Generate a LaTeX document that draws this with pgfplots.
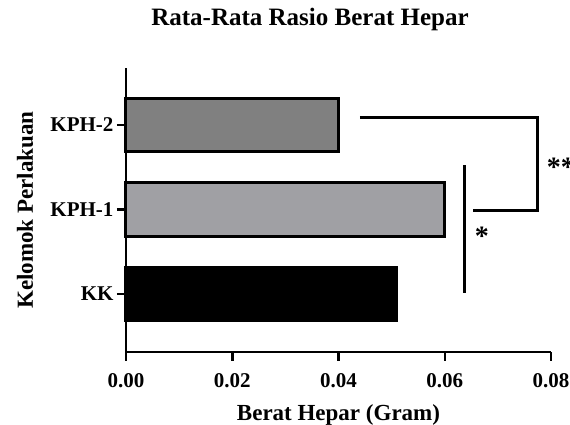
\documentclass[border=0pt]{standalone}
\usepackage{fontspec}
\setmainfont{Liberation Serif}
\usepackage{pgfplots}
\pgfplotsset{compat=1.18}

\definecolor{kph2}{RGB}{128,128,128}
\definecolor{kph1}{RGB}{160,160,164}

\begin{document}
\begin{tikzpicture}
\begin{axis}[
    name=main,
    scale only axis,
    width=425pt, height=284pt,
    xbar, bar width=0.63,
    xmin=0, xmax=0.08,
    ymin=-0.686, ymax=2.675,
    axis x line*=bottom, axis y line*=left,
    axis line style={line width=2.5pt},
    tick style={line width=2.5pt, black},
    tick align=outside,
    major tick length=9pt,
    xtick={0,0.02,0.04,0.06,0.08},
    ytick={0,1,2},
    yticklabels={KK,KPH-1,KPH-2},
    scaled x ticks=false,
    /pgf/number format/fixed,
    /pgf/number format/fixed zerofill,
    /pgf/number format/precision=2,
    /pgf/number format/assume math mode=true,
    tick label style={font=\bfseries\fontsize{21}{21}\selectfont},
    xticklabel style={yshift=-9pt},
    xlabel={Berat Hepar (Gram)},
    ylabel={Kelomok Perlakuan},
    every axis x label/.style={at={([yshift=-63pt]axis description cs:0.5,0)}, anchor=center,
        font=\bfseries\fontsize{23}{23}\selectfont},
    every axis y label/.style={at={([xshift=-101pt]axis description cs:0,0.5)}, rotate=90, anchor=center,
        font=\bfseries\fontsize{23}{23}\selectfont},
    title={Rata-Rata Rasio Berat Hepar},
    title style={at={([yshift=43pt]axis description cs:0.433,1)}, anchor=center,
        font=\bfseries\fontsize{25}{25}\selectfont},
    clip=false,
]
\addplot[fill=black, draw=black, line width=3pt, bar shift=0pt] coordinates {(0.051,0)};
\addplot[fill=kph1, draw=black, line width=3pt, bar shift=0pt] coordinates {(0.060,1)};
\addplot[fill=kph2, draw=black, line width=3pt, bar shift=0pt] coordinates {(0.040,2)};
% significance brackets
\draw[line width=3pt] (axis cs:0.044,2.095) -- (axis cs:0.0774,2.095)
    -- (axis cs:0.0774,0.994) -- (axis cs:0.0653,0.994);
\draw[line width=3pt] (axis cs:0.0638,1.527) -- (axis cs:0.0638,0.012);
\node[font=\bfseries\fontsize{28}{28}\selectfont, anchor=center] at (axis cs:0.0670,0.68) {*};
\node[font=\bfseries\fontsize{28}{28}\selectfont, anchor=west, inner sep=0pt] at (axis cs:0.0792,1.50) {**};
\end{axis}
\pgfresetboundingbox
\useasboundingbox (-126pt,-73pt) rectangle (444pt,352pt);
\end{tikzpicture}
\end{document}
